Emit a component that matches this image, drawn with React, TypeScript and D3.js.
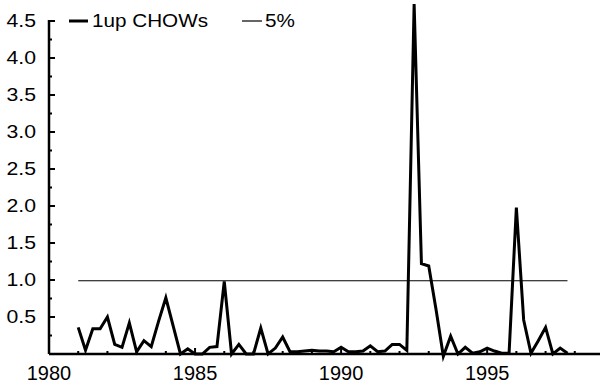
import React, { useEffect, useRef } from 'react';
import { select, scaleLinear, line, range } from 'd3';

// quarterly values, first quarter 1981
const startYear = 1981;
const chowValues = [
  0.36, 0.05, 0.34, 0.34,
  0.50, 0.13, 0.09, 0.42,
  0.03, 0.18, 0.10, 0.44,
  0.76, 0.38, 0.00, 0.07,
  0.00, 0.00, 0.09, 0.10,
  0.98, 0.00, 0.13, 0.00,
  0.00, 0.35, 0.00, 0.08,
  0.23, 0.03, 0.03, 0.04,
  0.05, 0.04, 0.04, 0.03,
  0.09, 0.03, 0.03, 0.04,
  0.11, 0.03, 0.04, 0.13,
  0.13, 0.05, 4.73, 1.22,
  1.19, 0.60, -0.03, 0.24,
  0.00, 0.09, 0.01, 0.03,
  0.08, 0.04, 0.01, 0.01,
  1.98, 0.46, 0.01, 0.18,
  0.36, 0.00, 0.08, 0.01,
];
const criticalValue = 0.99;
const xTickLabels = [1980, 1985, 1990, 1995];
const yTickLabels = [0.5, 1.0, 1.5, 2.0, 2.5, 3.0, 3.5, 4.0, 4.5];
const legendLabels = ['1up CHOWs', '5%'];

const width = 600;
const height = 388;

const App = () => {
  const ref = useRef<SVGSVGElement>(null);

  useEffect(() => {
    document.body.style.margin = '0';
    const svg = select(ref.current);
    svg.selectAll('*').remove();

    const x = scaleLinear().domain([1980, 1999]).range([49, 604]);
    const y = scaleLinear().domain([0, 4.5]).range([354, 21]);

    const data = chowValues.map((v, i) => ({ t: startYear + i / 4, v }));
    const tFirst = data[0].t;
    const tLast = data[data.length - 1].t;

    // 5% line
    svg.append('line')
      .attr('x1', x(tFirst)).attr('x2', x(tLast))
      .attr('y1', y(criticalValue)).attr('y2', y(criticalValue))
      .attr('stroke', '#000').attr('stroke-width', 1.2);

    // series
    const path = line<{ t: number; v: number }>()
      .x(d => x(d.t))
      .y(d => y(d.v));
    svg.append('path')
      .datum(data)
      .attr('d', path)
      .attr('fill', 'none')
      .attr('stroke', '#000')
      .attr('stroke-width', 3)
      .attr('stroke-linejoin', 'miter')
      .attr('stroke-miterlimit', 6);

    // axes
    svg.append('line')
      .attr('x1', x(1980)).attr('x2', width)
      .attr('y1', y(0)).attr('y2', y(0))
      .attr('stroke', '#000').attr('stroke-width', 2.5);
    svg.append('line')
      .attr('x1', x(1980)).attr('x2', x(1980))
      .attr('y1', y(0)).attr('y2', y(4.5) - 1)
      .attr('stroke', '#000').attr('stroke-width', 2.5);

    // x ticks
    svg.append('g').selectAll('line')
      .data(range(1981, 1999))
      .enter().append('line')
      .attr('x1', d => x(d)).attr('x2', d => x(d))
      .attr('y1', y(0)).attr('y2', d => y(0) - (d % 5 === 0 ? 6 : 3))
      .attr('stroke', '#000').attr('stroke-width', 2);

    svg.append('g').selectAll('text')
      .data(xTickLabels)
      .enter().append('text')
      .attr('x', d => x(d))
      .attr('y', 380)
      .attr('text-anchor', 'middle')
      .attr('font-family', 'Liberation Sans, Arial, sans-serif')
      .attr('font-size', 20)
      .text(d => d);

    // y ticks
    svg.append('g').selectAll('line')
      .data(range(1, 19).map(i => i * 0.25))
      .enter().append('line')
      .attr('x1', x(1980)).attr('x2', (d, i) => x(1980) + (i % 2 === 1 ? 6 : 3))
      .attr('y1', d => y(d)).attr('y2', d => y(d))
      .attr('stroke', '#000').attr('stroke-width', 2);

    svg.append('g').selectAll('text')
      .data(yTickLabels)
      .enter().append('text')
      .attr('transform', d => `translate(36, ${y(d) + 6}) scale(1.18, 1)`)
      .attr('text-anchor', 'end')
      .attr('font-family', 'Liberation Sans, Arial, sans-serif')
      .attr('font-size', 18)
      .text(d => d.toFixed(1));

    // legend
    const legend = svg.append('g');
    legend.append('line')
      .attr('x1', 69).attr('x2', 88).attr('y1', 21).attr('y2', 21)
      .attr('stroke', '#000').attr('stroke-width', 3);
    legend.append('text')
      .attr('x', 92).attr('y', 27)
      .attr('font-family', 'Liberation Sans, Arial, sans-serif')
      .attr('font-size', 18)
      .attr('textLength', 116)
      .attr('lengthAdjust', 'spacingAndGlyphs')
      .text(legendLabels[0]);
    legend.append('line')
      .attr('x1', 242).attr('x2', 262).attr('y1', 21).attr('y2', 21)
      .attr('stroke', '#000').attr('stroke-width', 1.2);
    legend.append('text')
      .attr('transform', 'translate(265, 27) scale(1.15, 1)')
      .attr('font-family', 'Liberation Sans, Arial, sans-serif')
      .attr('font-size', 18)
      .text(legendLabels[1]);
  }, []);

  return <svg ref={ref} width={width} height={height} style={{ display: 'block', background: '#fff' }}></svg>;
};

export default App;
